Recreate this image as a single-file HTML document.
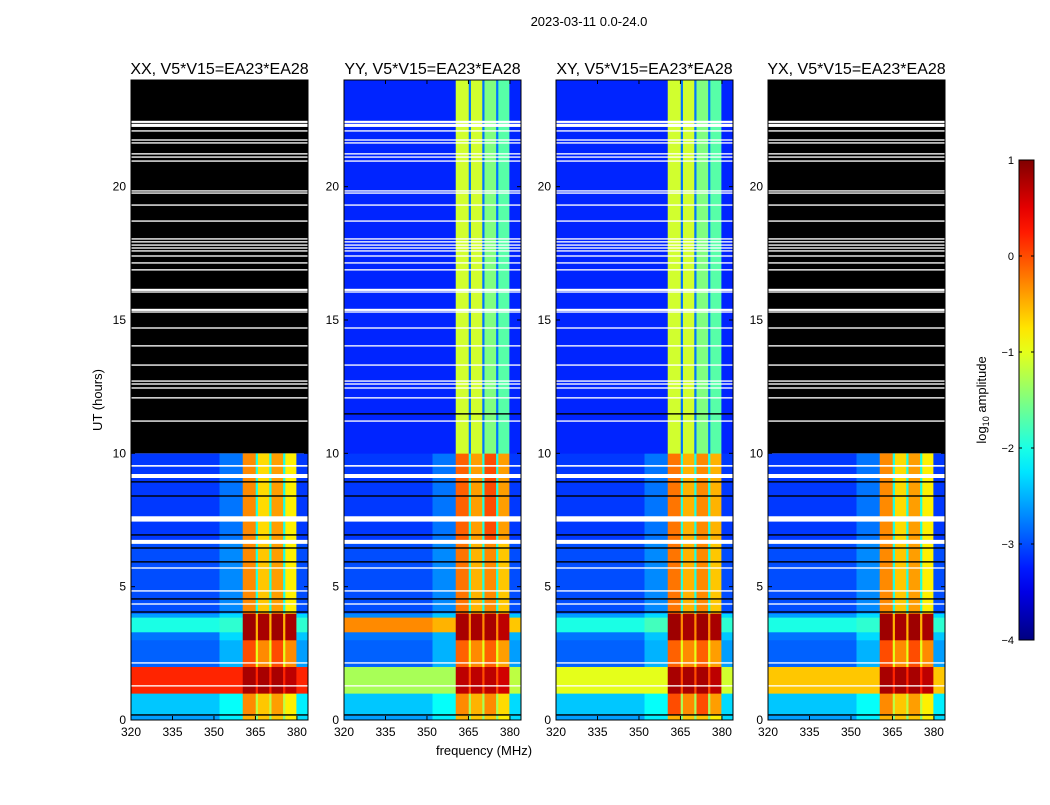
<!DOCTYPE html>
<html><head><meta charset="utf-8"><style>
html,body{margin:0;padding:0;background:#fff;}
svg text{font-family:"Liberation Sans",sans-serif;fill:#000;}
</style></head><body>
<svg id="fig" width="1050" height="800" xmlns="http://www.w3.org/2000/svg">
<text x="589" y="26" font-size="13" text-anchor="middle">2023-03-11 0.0-24.0</text>
<text x="484" y="755" font-size="13" text-anchor="middle">frequency (MHz)</text>
<text transform="translate(102,400) rotate(-90)" font-size="13" text-anchor="middle">UT (hours)</text>
<g id="panels"></g>
<g id="cbar"></g>
</svg>
<script>
const panelNames = ["XX","YY","XY","YX"];
const panelTitles = ["XX, V5*V15=EA23*EA28","YY, V5*V15=EA23*EA28","XY, V5*V15=EA23*EA28","YX, V5*V15=EA23*EA28"];
const freqEdges = [320,352,360.4,365.1,365.9,370,370.8,375,375.8,379.8,384];
const segHours = [[0,0.2],[0.2,1.0],[1.0,2.0],[2.0,3.0],[3.0,3.3],[3.3,3.85],[3.85,4.0],[4.0,6.7],[6.7,10],[10,24]];
// per segment: [bg, edge, b1, div, b2, div, b3, div, b4, tail] in log10 amplitude; null = black (no data)
const levelsXX = [
 [-2.6,-2.2,-0.5,-1.5,-0.6,-1.5,-0.6,-1.5,-0.8,-2.3],
 [-2.4,-2.1,-0.3,-1.2,-0.6,-1.2,-0.4,-1.2,-0.8,-2.2],
 [0.2,0.2,0.8,0.2,0.8,0.2,0.8,0.2,0.7,0.2],
 [-2.9,-2.5,0.0,-1.0,-0.3,-1.0,0.0,-1.0,-0.3,-2.6],
 [-2.8,-2.3,0.85,-0.5,0.8,-0.5,0.85,-0.5,0.8,-2.4],
 [-2.0,-1.9,0.85,-0.5,0.8,-0.5,0.85,-0.5,0.8,-1.9],
 [-2.6,-2.3,0.85,-0.5,0.8,-0.5,0.85,-0.5,0.8,-2.3],
 [-3.0,-2.7,-0.3,-2.0,-0.6,-2.0,-0.4,-2.0,-0.8,-3.0],
 [-3.1,-2.8,-0.3,-2.0,-0.7,-2.0,-0.4,-2.0,-0.8,-3.1],
 null];
const levelsYY = [
 [-2.6,-2.2,-0.5,-1.5,-0.6,-1.5,-0.6,-1.5,-0.8,-2.3],
 [-2.4,-2.1,-0.3,-1.3,-0.5,-1.3,-0.3,-1.3,-0.7,-2.3],
 [-1.3,-1.3,0.7,0.0,0.7,0.0,0.7,0.0,0.6,-1.2],
 [-2.9,-2.5,-0.1,-1.0,-0.3,-1.0,-0.1,-1.0,-0.4,-2.6],
 [-2.8,-2.5,0.8,-0.3,0.8,-0.3,0.8,-0.3,0.7,-2.5],
 [-0.3,-0.5,0.8,-0.3,0.8,-0.3,0.8,-0.3,0.7,-0.6],
 [-2.7,-2.4,0.8,-0.3,0.8,-0.3,0.8,-0.3,0.7,-2.4],
 [-3.0,-2.7,-0.2,-2.0,-0.5,-2.0,-0.3,-2.0,-0.6,-3.0],
 [-3.1,-2.8,-0.1,-2.0,-0.4,-2.0,0.0,-2.0,-0.4,-3.1],
 [-3.2,-3.2,-1.1,-2.8,-1.1,-2.8,-1.5,-2.8,-1.7,-3.2]];
const levelsXY = [
 [-2.6,-2.2,-0.5,-1.5,-0.6,-1.5,-0.6,-1.5,-0.8,-2.3],
 [-2.4,-2.1,0.0,-1.3,-0.3,-1.3,0.0,-1.3,-0.4,-2.3],
 [-1.0,-1.0,0.8,0.0,0.8,0.0,0.8,0.0,0.7,-1.1],
 [-2.9,-2.5,-0.1,-1.0,-0.3,-1.0,-0.1,-1.0,-0.4,-2.6],
 [-2.8,-2.4,0.85,-0.3,0.8,-0.3,0.85,-0.3,0.8,-2.4],
 [-2.0,-1.8,0.85,-0.3,0.8,-0.3,0.85,-0.3,0.8,-1.9],
 [-2.6,-2.3,0.85,-0.3,0.8,-0.3,0.85,-0.3,0.8,-2.3],
 [-3.0,-2.7,-0.2,-2.0,-0.5,-2.0,-0.3,-2.0,-0.6,-3.0],
 [-3.1,-2.8,-0.2,-2.0,-0.5,-2.0,-0.3,-2.0,-0.5,-3.1],
 [-3.2,-3.2,-1.1,-2.8,-1.1,-2.8,-1.5,-2.8,-1.7,-3.2]];
const levelsYX = [
 [-2.6,-2.2,-0.5,-1.5,-0.6,-1.5,-0.6,-1.5,-0.8,-2.3],
 [-2.4,-2.1,-0.3,-1.2,-0.6,-1.2,-0.4,-1.2,-0.8,-2.2],
 [-0.6,-0.6,0.8,0.2,0.8,0.2,0.8,0.2,0.7,-0.6],
 [-2.9,-2.5,0.0,-1.0,-0.3,-1.0,0.0,-1.0,-0.3,-2.6],
 [-2.8,-2.3,0.85,-0.5,0.8,-0.5,0.85,-0.5,0.8,-2.4],
 [-2.0,-1.9,0.85,-0.5,0.8,-0.5,0.85,-0.5,0.8,-1.9],
 [-2.6,-2.3,0.85,-0.5,0.8,-0.5,0.85,-0.5,0.8,-2.3],
 [-3.0,-2.7,-0.3,-2.0,-0.6,-2.0,-0.4,-2.0,-0.8,-3.0],
 [-3.1,-2.8,-0.3,-2.0,-0.7,-2.0,-0.4,-2.0,-0.8,-3.1],
 null];
const panelLevels = [levelsXX, levelsYY, levelsXY, levelsYX];
const flagHours = [22.43,22.3,22.09,21.75,21.64,21.23,21.11,20.96,19.84,19.76,19.31,18.71,18.04,17.93,17.81,17.7,17.59,17.4,17.14,16.88,16.13,16.05,15.38,15.3,14.7,14.03,13.31,12.71,12.6,12.45,12.08,11.21,9.53,9.15,7.54,6.68,5.7,4.84,4.35,2.14,1.28];
const flagWidths = [0.08,0.12,0.05,0.05,0.05,0.05,0.05,0.05,0.05,0.05,0.05,0.05,0.05,0.05,0.05,0.05,0.05,0.05,0.05,0.05,0.08,0.05,0.08,0.05,0.05,0.05,0.05,0.05,0.05,0.05,0.05,0.05,0.06,0.15,0.2,0.15,0.05,0.05,0.05,0.05,0.05];
const blankHours = [11.48,8.93,8.4,6.94,6.45,5.93,4.54,4.05,0.19];
const yTicks = [0,5,10,15,20];
const xTicks = [320,335,350,365,380];
const cbarTicks = [1,0,-1,-2,-3,-4];
const cbarTickLabels = ["1","0","\u22121","\u22122","\u22123","\u22124"];

const NS="http://www.w3.org/2000/svg";
const panelX=[131,344,556,768], PW=177, PT=80, PB=720;
const vmin=-4, vmax=1;
function jet(v){
  let t=(v-vmin)/(vmax-vmin); t=Math.max(0,Math.min(1,t));
  const c=x=>Math.round(255*Math.max(0,Math.min(1,x)));
  return `rgb(${c(1.5-Math.abs(4*t-3))},${c(1.5-Math.abs(4*t-2))},${c(1.5-Math.abs(4*t-1))})`;
}
const yScale=h=>PB-h*(PB-PT)/24;
function mk(tag,attrs,parent){const e=document.createElementNS(NS,tag);for(const k in attrs)e.setAttribute(k,attrs[k]);parent.appendChild(e);return e;}
const panelsG=document.getElementById('panels');
panelNames.forEach((pn,pi)=>{
  const x0=panelX[pi];
  const xScale=f=>x0+(f-320)*PW/64;
  const g=mk('g',{},panelsG);
  
  
  const lv=panelLevels[pi];
  segHours.forEach((sh,si)=>{
    const row=lv[si];
    const y1=yScale(sh[1]), y0=yScale(sh[0]);
    if(row===null){
      const r=mk('rect',{x:xScale(320),y:y1,width:PW,height:y0-y1,fill:'#000'},g);
      
      
      return;
    }
    for(let k=0;k<freqEdges.length-1;k++){
      const xa=xScale(freqEdges[k]), xb=xScale(freqEdges[k+1]);
      const r=mk('rect',{x:xa,y:y1,width:xb-xa+0.3,height:y0-y1+0.3,fill:jet(row[k])},g);
      
      
    }
  });
  flagHours.forEach((h,i)=>{
    const w=flagWidths[i]*(PB-PT)/24;
    const r=mk('rect',{x:x0,y:yScale(h)-w/2,width:PW,height:Math.max(1.2,w),fill:'#fff'},g);
    
    
  });
  blankHours.forEach(h=>{
    const r=mk('rect',{x:x0,y:yScale(h)-0.7,width:PW,height:1.4,fill:'#000'},g);
    
    
  });
  const fr=mk('rect',{x:x0,y:PT,width:PW,height:PB-PT,fill:'none',stroke:'#000','stroke-width':1},g);
  
  
  const t=mk('text',{x:x0+PW/2,y:74,'font-size':16,'text-anchor':'middle'},g);
  t.textContent=panelTitles[pi];
  
  
  yTicks.forEach(h=>{
    const y=yScale(h);
    mk('line',{x1:x0,x2:x0+4,y1:y,y2:y,stroke:'#000'},g);
    mk('line',{x1:x0+PW-4,x2:x0+PW,y1:y,y2:y,stroke:'#000'},g);
    const l=mk('text',{x:x0-5,y:y+4,'font-size':12,'text-anchor':'end'},g);
    l.textContent=h;
    
    
  });
  xTicks.forEach(f=>{
    const x=xScale(f);
    mk('line',{x1:x,x2:x,y1:PB,y2:PB-4,stroke:'#000'},g);
    mk('line',{x1:x,x2:x,y1:PT,y2:PT+4,stroke:'#000'},g);
    const l=mk('text',{x:x,y:736,'font-size':12,'text-anchor':'middle'},g);
    l.textContent=f;
    
    
  });
});
const cb=document.getElementById('cbar');


const defs=mk('defs',{},cb);
const lg=mk('linearGradient',{id:'jetg',x1:0,y1:1,x2:0,y2:0},defs);
for(let i=0;i<=20;i++){mk('stop',{offset:i/20,'stop-color':jet(vmin+(vmax-vmin)*i/20)},lg);}
const CX=1019,CW=15,CT=160,CB=640;
mk('rect',{x:CX,y:CT,width:CW,height:CB-CT,fill:'url(#jetg)',stroke:'#000','stroke-width':1},cb);
const cy=v=>CB-(v-vmin)/(vmax-vmin)*(CB-CT);
cbarTicks.forEach((v,i)=>{
  const y=cy(v);
  mk('line',{x1:CX,x2:CX+3,y1:y,y2:y,stroke:'#000'},cb);
  mk('line',{x1:CX+CW-3,x2:CX+CW,y1:y,y2:y,stroke:'#000'},cb);
  const l=mk('text',{x:CX-5,y:y+4,'font-size':11,'text-anchor':'end'},cb);
  l.textContent=cbarTickLabels[i];
  
  
});
const cl=mk('text',{transform:'translate(986,400) rotate(-90)','font-size':13,'text-anchor':'middle'},cb);
cl.innerHTML='log<tspan font-size="9" dy="3">10</tspan><tspan dy="-3"> amplitude</tspan>';


</script>
</body></html>
